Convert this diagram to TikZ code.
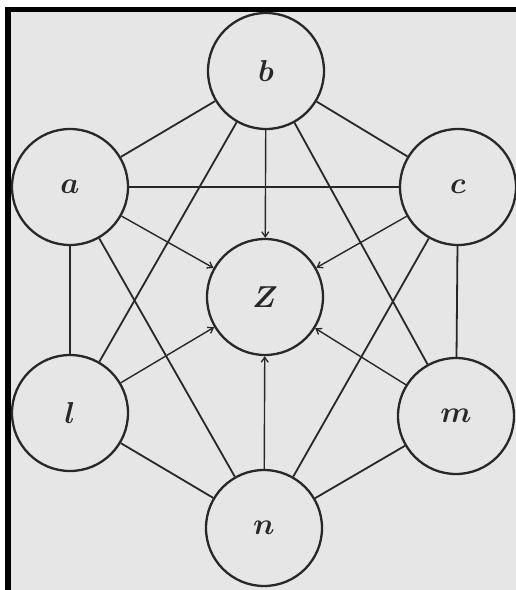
\documentclass[tikz,border=0pt]{standalone}
\usetikzlibrary{arrows.meta}
\definecolor{paper}{RGB}{230,230,230}
\definecolor{ink}{RGB}{40,40,40}
\newcommand\vlabel[1]{\scalebox{1.75}{\LARGE\boldmath$#1$}}
\begin{document}
\begin{tikzpicture}[x=1pt,y=-1pt,
  vtx/.style={circle,draw=ink,line width=2.3pt,minimum size=116pt,inner sep=0pt,text=ink},
  edge/.style={draw=ink,line width=1.8pt},
  arr/.style={draw=ink,line width=1.4pt,-{Straight Barb[length=5pt,width=7pt,line width=1.3pt]}}]
\useasboundingbox (0,0) rectangle (516,590);
\fill[white] (0,0) rectangle (516,590);
\fill[paper] (8,10) rectangle (516,590);
\fill[black] (5,7) rectangle (11,590);
\fill[black] (5,7) rectangle (516,12);
\node[vtx] (b) at (266,71) {\vlabel{b}};
\node[vtx] (a) at (70,187) {\vlabel{a}};
\node[vtx] (c) at (458,187) {\vlabel{c}};
\node[vtx] (Z) at (265,297) {\vlabel{Z}};
\node[vtx] (l) at (70,413) {\vlabel{l}};
\node[vtx] (m) at (456,416) {\vlabel{m}};
\node[vtx] (n) at (264,528) {\vlabel{n}};
\draw[edge] (b) -- (a);
\draw[edge] (b) -- (c);
\draw[edge] (b) -- (l);
\draw[edge] (b) -- (m);
\draw[edge] (a) -- (c);
\draw[edge] (a) -- (l);
\draw[edge] (a) -- (n);
\draw[edge] (c) -- (m);
\draw[edge] (c) -- (n);
\draw[edge] (l) -- (n);
\draw[edge] (m) -- (n);
\draw[arr] (b) -- (Z);
\draw[arr] (a) -- (Z);
\draw[arr] (c) -- (Z);
\draw[arr] (l) -- (Z);
\draw[arr] (m) -- (Z);
\draw[arr] (n) -- (Z);
\end{tikzpicture}
\end{document}
